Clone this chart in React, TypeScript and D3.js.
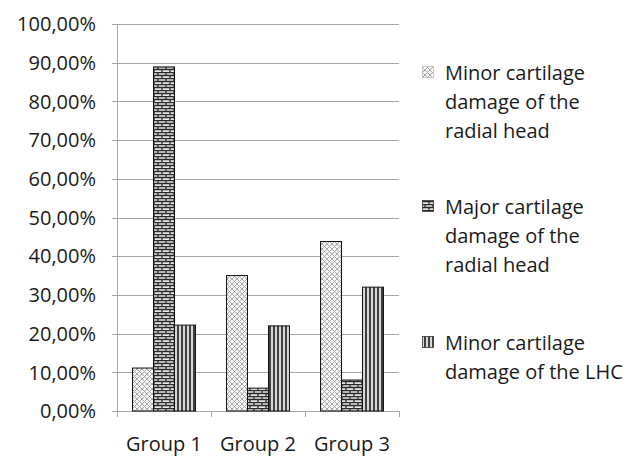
import * as d3 from "d3";
import { useEffect, useRef } from "react";

const groups = ["Group 1", "Group 2", "Group 3"];
const seriesNames = [
    ["Minor cartilage", "damage of the", "radial head"],
    ["Major cartilage", "damage of the", "radial head"],
    ["Minor cartilage", "damage of the LHC"],
];
const minorRadial = [11.1, 35.0, 43.8];
const majorRadial = [88.9, 5.9, 8.0];
const minorLhc = [22.2, 22.0, 32.0];
const yTicks = [0, 10, 20, 30, 40, 50, 60, 70, 80, 90, 100];

const W = 634;
const H = 459;
const margin = { top: 24, bottom: 48, left: 117, right: 235 };
const FONT = "'Open Sans', sans-serif";

const App = () => {
    const chartRef = useRef(null);

    useEffect(() => {
        const svg = d3.select(chartRef.current);
        svg.selectAll("*").remove();

        const boundsWidth = W - margin.left - margin.right;
        const boundsHeight = H - margin.top - margin.bottom;
        const series = [minorRadial, majorRadial, minorLhc];
        const patternIds = ["pMinor", "pMajor", "pLhc"];

        // patterns
        const defs = svg.append("defs");
        const p1 = defs.append("pattern").attr("id", "pMinor")
            .attr("patternUnits", "userSpaceOnUse").attr("width", 5).attr("height", 5);
        p1.append("rect").attr("width", 5).attr("height", 5).attr("fill", "#f6f6f6");
        p1.append("path").attr("d", "M0,0L5,5M5,0L0,5").attr("stroke", "#a0a0a0").attr("stroke-width", 0.9);

        const p2 = defs.append("pattern").attr("id", "pMajor")
            .attr("patternUnits", "userSpaceOnUse").attr("width", 8).attr("height", 6);
        p2.append("rect").attr("width", 8).attr("height", 6).attr("fill", "#e6e6e6");
        p2.append("path").attr("d", "M0,0.5H8M0,3.5H8M1,0.5V3.5M5,3.5V6.5")
            .attr("stroke", "#2a2a2a").attr("stroke-width", 1.3);

        const p3 = defs.append("pattern").attr("id", "pLhc")
            .attr("patternUnits", "userSpaceOnUse").attr("width", 4).attr("height", 4);
        p3.append("rect").attr("width", 4).attr("height", 4).attr("fill", "#d8d8d8");
        p3.append("path").attr("d", "M1,0V4").attr("stroke", "#1a1a1a").attr("stroke-width", 1.6);

        const scaleX = d3.scaleBand()
            .domain(groups)
            .range([0, boundsWidth])
            .paddingInner(0)
            .paddingOuter(0);

        const inner = d3.scaleBand()
            .domain(["0", "1", "2"])
            .range([0, scaleX.bandwidth()])
            .paddingOuter(0.74)
            .paddingInner(0);

        const scaleY = d3.scaleLinear().domain([0, 100]).range([boundsHeight, 0]);

        const g = svg.append("g").attr("transform", `translate(${margin.left}, ${margin.top})`);

        // grid lines
        g.selectAll(".grid")
            .data(yTicks)
            .enter()
            .append("line")
            .attr("x1", 0)
            .attr("x2", boundsWidth)
            .attr("y1", d => Math.round(scaleY(d)) + 0.5)
            .attr("y2", d => Math.round(scaleY(d)) + 0.5)
            .attr("stroke", "#a6a6a6")
            .attr("stroke-width", 1);

        // y tick marks + labels
        g.selectAll(".ytick")
            .data(yTicks)
            .enter()
            .append("line")
            .attr("x1", -5).attr("x2", 0)
            .attr("y1", d => Math.round(scaleY(d)) + 0.5)
            .attr("y2", d => Math.round(scaleY(d)) + 0.5)
            .attr("stroke", "#a6a6a6");

        g.selectAll(".ylabel")
            .data(yTicks)
            .enter()
            .append("text")
            .attr("x", -21)
            .attr("y", d => scaleY(d))
            .attr("dy", "0.36em")
            .attr("text-anchor", "end")
            .style("font-family", FONT)
            .style("font-size", "20px")
            .style("fill", "#1a1a1a")
            .text(d => d.toFixed(2).replace(".", ",") + "%");

        // axis lines
        g.append("line").attr("x1", 0.5).attr("x2", 0.5).attr("y1", 0).attr("y2", boundsHeight)
            .attr("stroke", "#a6a6a6");
        g.append("line").attr("x1", 0).attr("x2", boundsWidth)
            .attr("y1", boundsHeight + 0.5).attr("y2", boundsHeight + 0.5)
            .attr("stroke", "#a6a6a6");
        const catEdges = [0, ...groups.map(d => scaleX(d) + scaleX.bandwidth())];
        g.selectAll(".xtick")
            .data(catEdges)
            .enter()
            .append("line")
            .attr("x1", d => Math.round(d) + 0.5).attr("x2", d => Math.round(d) + 0.5)
            .attr("y1", boundsHeight).attr("y2", boundsHeight + 6)
            .attr("stroke", "#a6a6a6");

        g.selectAll(".xlabel")
            .data(groups)
            .enter()
            .append("text")
            .attr("x", d => scaleX(d) + scaleX.bandwidth() / 2)
            .attr("y", boundsHeight + 40)
            .attr("text-anchor", "middle")
            .style("font-family", FONT)
            .style("font-size", "20px")
            .style("fill", "#1a1a1a")
            .text(d => d);

        // bars
        series.forEach((vals, si) => {
            g.selectAll(`.bar-${si}`)
                .data(groups)
                .enter()
                .append("rect")
                .attr("x", (d) => scaleX(d) + inner(String(si)))
                .attr("y", (d, i) => scaleY(vals[i]))
                .attr("width", inner.bandwidth())
                .attr("height", (d, i) => boundsHeight - scaleY(vals[i]))
                .style("fill", `url(#${patternIds[si]})`)
                .style("stroke", "#111")
                .style("stroke-width", 1);
        });

        // legend
        const legendTops = [80, 214, 350];
        const legend = svg.append("g");
        seriesNames.forEach((lines, si) => {
            const y0 = legendTops[si];
            legend.append("rect")
                .attr("x", 422.5).attr("y", y0 - 13.5)
                .attr("width", 11).attr("height", 11)
                .style("fill", `url(#${patternIds[si]})`)
                .style("stroke", si === 0 ? "#bbb" : "#333")
                .style("stroke-width", 0.8);
            lines.forEach((line, li) => {
                legend.append("text")
                    .attr("x", 445)
                    .attr("y", y0 + li * 29)
                    .style("font-family", FONT)
                    .style("font-size", "20px")
                    .style("fill", "#1a1a1a")
                    .text(line);
            });
        });
    }, []);

    return (
        <svg ref={chartRef} width={W} height={H}
            style={{ position: "absolute", left: 0, top: 0, background: "#fff" }}></svg>
    );
};

export default App;
